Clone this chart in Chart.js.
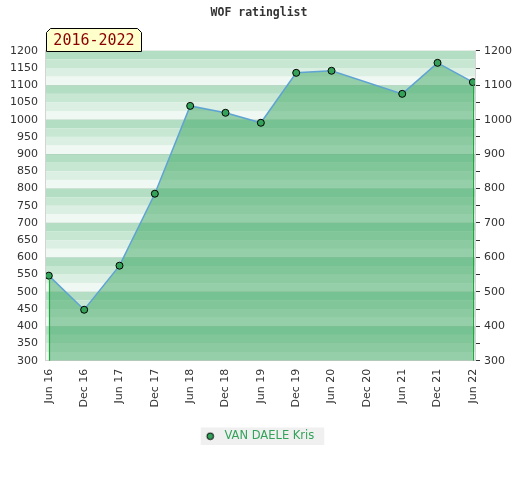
<!DOCTYPE html>
<html>
<head>
<meta charset="utf-8">
<script src="https://cdn.jsdelivr.net/npm/chart.js@4"></script>
<style>
  html, body { margin: 0; padding: 0; background: #fff; }
  #wrap { width: 520px; height: 480px; }
</style>
</head>
<body>
<div id="wrap"><canvas id="c" width="520" height="480"></canvas></div>
<script>
// chart data
const categories = ['Jun 16', 'Dec 16', 'Jun 17', 'Dec 17', 'Jun 18', 'Dec 18', 'Jun 19',
    'Dec 19', 'Jun 20', 'Dec 20', 'Jun 21', 'Dec 21', 'Jun 22'];
const ratings = [547, 448, 576, 785, 1040, 1020, 991, 1136, 1142, null, 1075, 1165, 1109];
const seriesName = 'VAN DAELE Kris';
const periodLabel = '2016-2022';
const yMin = 300;
const yMax = 1200;

const STRIPES = ['#b3dec4', '#c7e7d3', '#dcefe3', '#eff8f2'];
const POINT_FILL = '#35a25a';

// striped background, 4 bands per 100 points
const stripePlugin = {
    id: 'stripes',
    beforeDraw(chart) {
        const { ctx, chartArea: a, scales: { y } } = chart;
        ctx.save();
        for (let v = yMax, i = 0; v > yMin; v -= 25, i++) {
            const top = y.getPixelForValue(v);
            const bot = y.getPixelForValue(v - 25);
            ctx.fillStyle = STRIPES[i % 4];
            ctx.fillRect(a.left, top, a.right - a.left, bot - top);
        }
        ctx.restore();
    }
};

// green drop lines at both ends + the period tag
const extrasPlugin = {
    id: 'extras',
    afterDatasetsDraw(chart) {
        const { ctx, chartArea: a } = chart;
        const pts = chart.getDatasetMeta(0).data.filter(p => !p.skip);
        ctx.save();
        ctx.strokeStyle = '#1fa83f';
        ctx.lineWidth = 1.2;
        [pts[0], pts[pts.length - 1]].forEach(p => {
            ctx.beginPath();
            ctx.moveTo(Math.round(p.x) + 0.5, p.y + 3);
            ctx.lineTo(Math.round(p.x) + 0.5, a.bottom);
            ctx.stroke();
        });
        ctx.restore();
    },
    afterDraw(chart) {
        const { ctx, chartArea: a } = chart;
        const x0 = Math.round(a.left) + 0.5, x1 = x0 + 95;
        const y1 = Math.round(a.top) + 0.5, y0 = y1 - 23, c = 4;
        ctx.save();
        ctx.beginPath();
        ctx.moveTo(x0, y1);
        ctx.lineTo(x0, y0 + c);
        ctx.lineTo(x0 + c, y0);
        ctx.lineTo(x1 - c, y0);
        ctx.lineTo(x1, y0 + c);
        ctx.lineTo(x1, y1);
        ctx.closePath();
        ctx.fillStyle = '#ffffcc';
        ctx.fill();
        ctx.strokeStyle = '#000';
        ctx.lineWidth = 1;
        ctx.stroke();
        ctx.fillStyle = '#8b0000';
        ctx.font = '15px "DejaVu Sans Mono", monospace';
        ctx.textAlign = 'center';
        ctx.textBaseline = 'middle';
        ctx.fillText(periodLabel, (x0 + x1) / 2, (y0 + y1) / 2 + 1);
        ctx.restore();
    }
};

// grey box behind the legend
const legendBgPlugin = {
    id: 'legendBg',
    beforeDraw(chart) {
        const l = chart.legend;
        if (!l || !l.legendHitBoxes.length) return;
        const h = l.legendHitBoxes[0];
        const { ctx } = chart;
        ctx.save();
        ctx.fillStyle = '#f0f0f0';
        ctx.fillRect(h.left - 3, h.top - 3, h.width + 13, h.height + 6);
        ctx.restore();
    }
};

// legend marker: small dot sitting in a wider box
function legendMarker() {
    const c = document.createElement('canvas');
    c.width = 15;
    c.height = 9;
    const g = c.getContext('2d');
    g.beginPath();
    g.arc(6.5, 4.5, 3.3, 0, Math.PI * 2);
    g.fillStyle = POINT_FILL;
    g.fill();
    g.strokeStyle = '#000';
    g.lineWidth = 1;
    g.stroke();
    return c;
}

const points = ratings.map((v, i) => ({ x: i, y: v }));
const tickFont = { family: '"DejaVu Sans", sans-serif', size: 11 };

new Chart(document.getElementById('c'), {
    type: 'line',
    data: {
        datasets: [{
            label: seriesName,
            data: points,
            borderColor: '#5fa3d3',
            borderWidth: 1.5,
            backgroundColor: 'rgba(60,165,95,0.5)',
            fill: 'start',
            spanGaps: true,
            tension: 0,
            pointRadius: 3.5,
            pointHoverRadius: 3.5,
            pointBackgroundColor: POINT_FILL,
            pointBorderColor: '#000',
            pointBorderWidth: 1,
            yAxisID: 'y'
        }]
    },
    options: {
        responsive: false,
        animation: false,
        layout: { padding: { left: 2, right: 4, top: 0, bottom: 28 } },
        plugins: {
            title: {
                display: true,
                text: 'WOF ratinglist',
                color: '#333',
                font: { family: '"DejaVu Sans Mono", monospace', size: 11.5, weight: 'bold' },
                padding: { top: 6, bottom: 31 }
            },
            legend: {
                position: 'bottom',
                labels: {
                    usePointStyle: true,
                    pointStyle: legendMarker(),
                    pointStyleWidth: 15,
                    boxHeight: 9,
                    color: '#33a35a',
                    font: { family: '"DejaVu Sans", sans-serif', size: 11.5 },
                    padding: 6
                }
            },
            tooltip: { enabled: false }
        },
        scales: {
            x: {
                type: 'linear',
                min: -0.08,
                max: 12.06,
                afterBuildTicks(s) { s.ticks = categories.map((c, i) => ({ value: i })); },
                afterFit(s) { s.height += 9; },
                ticks: {
                    autoSkip: false,
                    minRotation: 90,
                    maxRotation: 90,
                    color: '#333',
                    font: tickFont,
                    padding: 8,
                    callback: v => categories[v]
                },
                grid: { display: false, drawTicks: false },
                border: { color: '#d4d4d4' }
            },
            y: {
                position: 'left',
                min: yMin,
                max: yMax,
                ticks: { stepSize: 50, color: '#333', font: tickFont, padding: 8, callback: v => String(v) },
                grid: {
                    drawTicks: false,
                    color: c => (c.tick.value % 100 === 0 ? 'rgba(0,0,0,0.05)' : 'rgba(0,0,0,0)')
                },
                border: { color: '#d4d4d4' }
            },
            y2: {
                position: 'right',
                min: yMin,
                max: yMax,
                ticks: {
                    stepSize: 50,
                    color: '#333',
                    font: tickFont,
                    padding: 4,
                    callback: v => (v % 100 === 0 ? String(v) : '')
                },
                grid: { drawOnChartArea: false, tickLength: 5, color: '#333', tickColor: '#333' },
                border: { color: '#d4d4d4' }
            }
        }
    },
    plugins: [stripePlugin, extrasPlugin, legendBgPlugin]
});
</script>
</body>
</html>
